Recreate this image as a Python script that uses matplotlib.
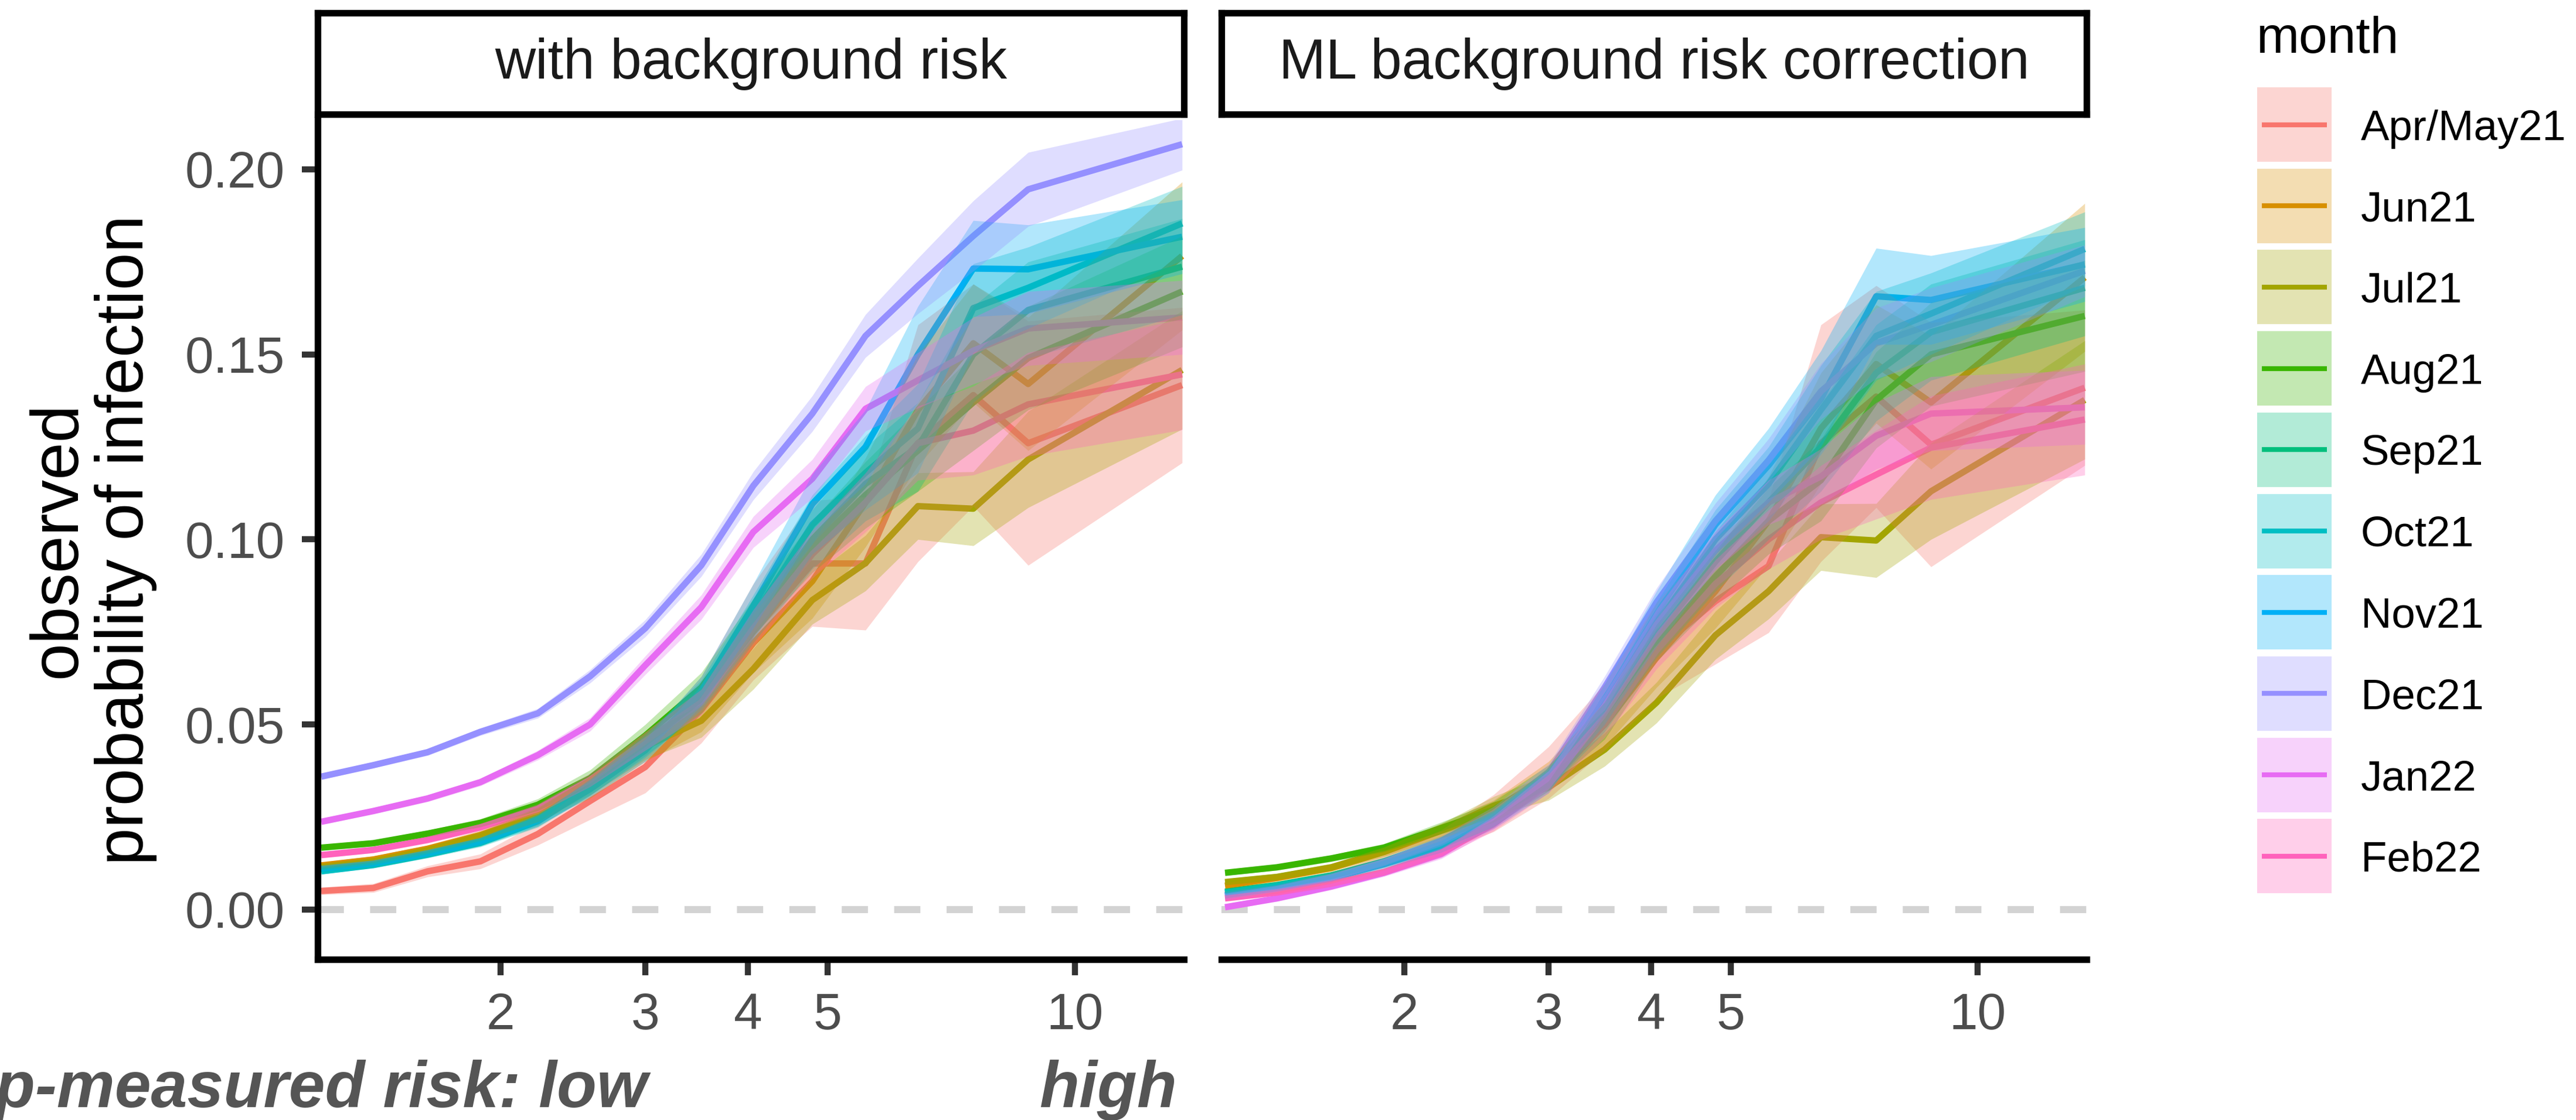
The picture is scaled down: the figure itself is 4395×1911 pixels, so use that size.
import numpy as np
import matplotlib
matplotlib.use("Agg")
import matplotlib.pyplot as plt
from matplotlib.patches import Rectangle
from matplotlib.lines import Line2D
from matplotlib.ticker import NullLocator

plt.rcParams['font.family'] = ['Liberation Sans', 'DejaVu Sans']

months = ["Apr/May21", "Jun21", "Jul21", "Aug21", "Sep21",
          "Oct21", "Nov21", "Dec21", "Jan22", "Feb22"]
colors = ["#F8766D", "#D89000", "#A3A500", "#39B600", "#00BF7D",
          "#00BFC4", "#00B0F6", "#9590FF", "#E76BF3", "#FF62BC"]

# app-measured risk (bin centres)
risk = [1.21, 1.40, 1.63, 1.89, 2.22, 2.57, 3.00, 3.51, 4.06, 4.79, 5.56, 6.44, 7.52, 8.77, 13.5]

# panel 1: with background risk
bg_aprmay = [.0050, .0058, .0103, .0130, .0204, .0293, .0385, .0540, .0750, .0935, .0935, .1260, .1390, .1260, .1417]
bg_jun = [.0119, .0135, .0164, .0201, .0256, .0330, .0440, .0540, .0720, .0887, .1100, .1350, .1530, .1420, .1766]
bg_jul = [.0115, .0130, .0160, .0198, .0255, .0335, .0440, .0510, .0650, .0836, .0936, .1090, .1083, .1216, .1458]
bg_aug = [.0167, .0179, .0205, .0234, .0283, .0355, .0470, .0600, .0790, .0980, .1120, .1240, .1370, .1490, .1670]
bg_sep = [.0108, .0122, .0150, .0182, .0240, .0330, .0445, .0570, .0780, .1000, .1150, .1250, .1500, .1620, .1737]
bg_oct = [.0103, .0120, .0148, .0180, .0238, .0330, .0440, .0580, .0790, .1040, .1180, .1300, .1625, .1680, .1854]
bg_nov = [.0110, .0124, .0152, .0184, .0242, .0325, .0430, .0590, .0820, .1096, .1250, .1500, .1732, .1730, .1818]
bg_dec = [.0359, .0390, .0425, .0480, .0530, .0630, .0760, .0930, .1145, .1340, .1550, .1685, .1820, .1946, .2068]
bg_jan = [.0237, .0266, .0300, .0344, .0417, .0500, .0660, .0817, .1020, .1164, .1353, .1430, .1510, .1570, .1600]
bg_feb = [.0147, .0161, .0188, .0222, .0272, .0350, .0455, .0560, .0760, .0960, .1100, .1260, .1294, .1365, .1446]

# panel 2: ML background risk correction
ml_aprmay = [.0040, .0055, .0085, .0125, .0185, .0260, .0370, .0520, .0700, .0833, .0928, .1260, .1386, .1256, .1410]
ml_jun = [.0064, .0085, .0112, .0155, .0213, .0265, .0360, .0500, .0680, .0860, .1050, .1300, .1474, .1370, .1708]
ml_jul = [.0074, .0088, .0114, .0156, .0214, .0280, .0330, .0432, .0559, .0741, .0860, .1006, .0997, .1130, .1377]
ml_aug = [.0099, .0114, .0138, .0167, .0220, .0270, .0360, .0500, .0720, .0900, .1050, .1160, .1377, .1500, .1604]
ml_sep = [.0048, .0066, .0092, .0130, .0182, .0245, .0355, .0520, .0740, .0940, .1100, .1250, .1450, .1560, .1680]
ml_oct = [.0045, .0064, .0090, .0128, .0180, .0245, .0350, .0540, .0770, .1000, .1150, .1350, .1550, .1610, .1785]
ml_nov = [.0038, .0058, .0085, .0122, .0170, .0240, .0345, .0570, .0800, .1040, .1200, .1380, .1657, .1647, .1743]
ml_dec = [.0035, .0056, .0087, .0128, .0185, .0260, .0370, .0600, .0830, .1050, .1214, .1400, .1530, .1580, .1726]
ml_jan = [.0006, .0030, .0062, .0099, .0150, .0235, .0350, .0550, .0770, .0970, .1100, .1170, .1280, .1340, .1357]
ml_feb = [.0030, .0046, .0070, .0101, .0153, .0230, .0340, .0500, .0700, .0880, .1000, .1100, .1175, .1248, .1324]

# half-width of the confidence band (per month)
ci_aprmay = [.0010, .0012, .0015, .0020, .0030, .0050, .0070, .0090, .0130, .0170, .0180, .0320, .0300, .0330, .0210]
ci_jun = [.0008, .0009, .0010, .0013, .0020, .0030, .0040, .0060, .0080, .0100, .0120, .0150, .0160, .0180, .0200]
ci_jul = [.0008, .0009, .0010, .0013, .0018, .0025, .0035, .0045, .0055, .0065, .0075, .0090, .0100, .0130, .0160]
ci_aug = [.0007, .0008, .0009, .0011, .0016, .0022, .0030, .0040, .0050, .0070, .0090, .0110, .0130, .0140, .0150]
ci_sep = [.0007, .0008, .0009, .0011, .0016, .0022, .0030, .0040, .0060, .0080, .0100, .0120, .0130, .0130, .0130]
ci_oct = [.0007, .0008, .0009, .0011, .0016, .0022, .0030, .0040, .0060, .0080, .0100, .0120, .0120, .0110, .0100]
ci_nov = [.0007, .0008, .0009, .0011, .0016, .0022, .0030, .0040, .0060, .0080, .0100, .0130, .0130, .0120, .0100]
ci_dec = [.0008, .0008, .0009, .0010, .0013, .0018, .0023, .0030, .0038, .0048, .0058, .0075, .0095, .0100, .0070]
ci_jan = [.0008, .0008, .0009, .0010, .0013, .0018, .0025, .0033, .0042, .0052, .0060, .0075, .0090, .0100, .0100]
ci_feb = [.0008, .0008, .0009, .0010, .0013, .0018, .0025, .0035, .0050, .0065, .0080, .0100, .0120, .0140, .0150]

panel_titles = ["with background risk", "ML background risk correction"]
bg_series = [bg_aprmay, bg_jun, bg_jul, bg_aug, bg_sep, bg_oct, bg_nov, bg_dec, bg_jan, bg_feb]
ml_series = [ml_aprmay, ml_jun, ml_jul, ml_aug, ml_sep, ml_oct, ml_nov, ml_dec, ml_jan, ml_feb]
ci_series = [ci_aprmay, ci_jun, ci_jul, ci_aug, ci_sep, ci_oct, ci_nov, ci_dec, ci_jan, ci_feb]

xticks = [2, 3, 4, 5, 10]
yticks = [0.0, 0.05, 0.10, 0.15, 0.20]

W, H, DPI = 4395, 1911, 300
fig = plt.figure(figsize=(W / DPI, H / DPI), dpi=DPI)


def box(x0, y0, x1, y1):
    # pixel box (top-left origin) -> figure fraction rect
    return [x0 / W, 1 - y1 / H, (x1 - x0) / W, (y1 - y0) / H]


LW = 2.6
AXW = 2.7
panels = [(542, 2020), (2084, 3560)]
for k, (x0, x1) in enumerate(panels):
    ax = fig.add_axes(box(x0, 205, x1, 1637))
    series = bg_series if k == 0 else ml_series
    ax.axhline(0, color="#D3D3D3", lw=2.9, ls=(0, (3.7, 3.7)), zorder=1)
    for vals, col in zip(series, colors):
        ax.plot(risk, vals, color=col, lw=LW, zorder=2,
                solid_capstyle="butt", solid_joinstyle="round")
    for vals, ci, col in zip(series, ci_series, colors):
        v = np.array(vals)
        c = np.array(ci)
        ax.fill_between(risk, v - c, v + c, color=col, alpha=0.3, lw=0, zorder=3)

    ax.set_xscale("log")
    ax.set_xlim(1.198, 13.57)
    ax.set_ylim(-0.0135, 0.2133)
    ax.set_xticks(xticks)
    ax.set_xticklabels([str(t) for t in xticks])
    ax.xaxis.set_minor_locator(NullLocator())
    ax.set_yticks(yticks)
    ax.set_yticklabels(["%.2f" % t for t in yticks])
    ax.tick_params(length=6.5, width=2.5, color="#333333", labelsize=21,
                   labelcolor="#4D4D4D", pad=7)
    ax.spines["top"].set_visible(False)
    ax.spines["right"].set_visible(False)
    ax.spines["bottom"].set_linewidth(AXW)
    ax.spines["left"].set_linewidth(AXW)
    if k == 1:
        ax.spines["left"].set_visible(False)
        ax.tick_params(axis="y", left=False, labelleft=False)
    ax.patch.set_alpha(0)

    # facet strip
    sx = fig.add_axes(box(x0, 22, x1, 195))
    sx.set_xticks([])
    sx.set_yticks([])
    for s in sx.spines.values():
        s.set_linewidth(AXW)
        s.set_color("black")
    sx.text(0.5, 0.5, panel_titles[k], ha="center", va="center",
            fontsize=23, color="#1A1A1A", transform=sx.transAxes)

fig.text(157 / W, 1 - 921 / H, "observed\nprobability of infection", rotation=90,
         ha="center", va="center", fontsize=27.5, linespacing=1.1,
         multialignment="center")

fig.text(1105 / W, 1 - 1889 / H, "app-measured risk: low", ha="right", va="baseline",
         fontsize=26.7, fontweight="bold", fontstyle="italic", color="#555555")
fig.text(2008 / W, 1 - 1889 / H, "high", ha="right", va="baseline",
         fontsize=26.7, fontweight="bold", fontstyle="italic", color="#555555")

# legend
fig.text(3849 / W, 1 - 90 / H, "month", ha="left", va="baseline", fontsize=21)
for i, (m, col) in enumerate(zip(months, colors)):
    top = 149 + i * 138.7
    fig.add_artist(Rectangle((3851 / W, 1 - (top + 127) / H), 127 / W, 127 / H,
                             transform=fig.transFigure, facecolor=col, alpha=0.3,
                             edgecolor="none"))
    yc = 1 - (top + 63.5) / H
    fig.add_artist(Line2D([3859 / W, 3970 / W], [yc, yc], transform=fig.transFigure,
                          color=col, lw=2.0, solid_capstyle="butt"))
    fig.text(4028 / W, 1 - (top + 63.5 + 26) / H, m, ha="left", va="baseline",
             fontsize=17.4)

fig.savefig("out.png", dpi=DPI)
